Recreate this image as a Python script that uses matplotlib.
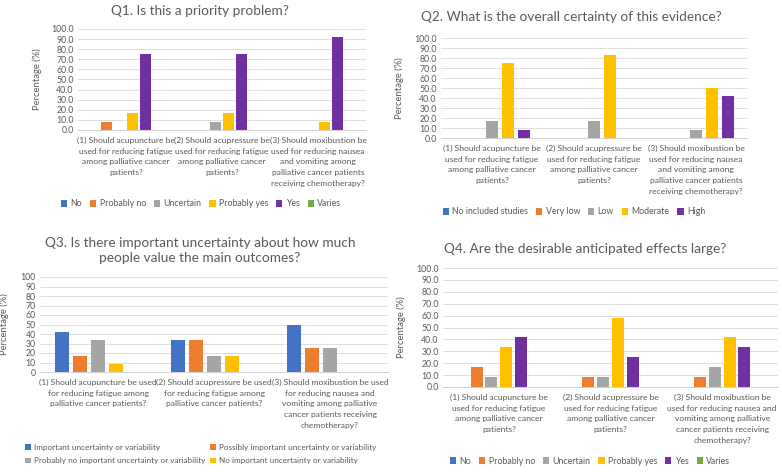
import matplotlib
matplotlib.use("Agg")
import matplotlib.pyplot as plt
import numpy as np

plt.rcParams['font.family'] = ['Lato', 'DejaVu Sans']

# ---------------- data ----------------
q1_title = "Q1. Is this a priority problem?"
q1_series = ["No", "Probably no", "Uncertain", "Probably yes", "Yes", "Varies"]
q1_values = [
    [0.0, 0.0, 0.0],      # No
    [8.3, 0.0, 0.0],      # Probably no
    [0.0, 8.3, 0.0],      # Uncertain
    [16.7, 16.7, 8.3],    # Probably yes
    [75.0, 75.0, 91.7],   # Yes
    [0.0, 0.0, 0.0],      # Varies
]
q1_labels = [
    "(1) Should acupuncture be\nused for reducing fatigue\namong palliative cancer\npatients?",
    "(2) Should acupressure be\nused for reducing fatigue\namong palliative cancer\npatients?",
    "(3) Should moxibustion be\nused for reducing nausea\nand vomiting among\npalliative cancer patients\nreceiving chemotherapy?",
]

q2_title = "Q2. What is the overall certainty of this evidence?"
q2_series = ["No included studies", "Very low", "Low", "Moderate", "High"]
q2_values = [
    [0.0, 0.0, 0.0],
    [0.0, 0.0, 0.0],
    [16.7, 16.7, 8.3],
    [75.0, 83.3, 50.0],
    [8.3, 0.0, 41.7],
]
q2_labels = q1_labels

q3_title = "Q3. Is there important uncertainty about how much\npeople value the main outcomes?"
q3_series = ["Important uncertainty or variability",
             "Possibly important uncertainty or variability",
             "Probably no important uncertainty or variability",
             "No important uncertainty or variability"]
q3_values = [
    [41.7, 33.3, 50.0],
    [16.7, 33.3, 25.0],
    [33.3, 16.7, 25.0],
    [8.3, 16.7, 0.0],
]
q3_labels = [
    "(1) Should acupuncture be used\nfor reducing fatigue among\npalliative cancer patients?",
    "(2) Should acupressure be used\nfor reducing fatigue among\npalliative cancer patients?",
    "(3) Should moxibustion be used\nfor reducing nausea and\nvomiting among palliative\ncancer patients receiving\nchemotherapy?",
]

q4_title = "Q4. Are the desirable anticipated effects large?"
q4_series = ["No", "Probably no", "Uncertain", "Probably yes", "Yes", "Varies"]
q4_values = [
    [0.0, 0.0, 0.0],
    [16.7, 8.3, 8.3],
    [8.3, 8.3, 16.7],
    [33.3, 58.3, 41.7],
    [41.7, 25.0, 33.3],
    [0.0, 0.0, 0.0],
]
q4_labels = [
    "(1) Should acupuncture be\nused for reducing fatigue\namong palliative cancer\npatients?",
    "(2) Should acupressure be\nused for reducing fatigue\namong palliative cancer\npatients?",
    "(3) Should moxibustion be\nused for reducing nausea and\nvomiting among palliative\ncancer patients receiving\nchemotherapy?",
]

colors6 = ['#4472C4', '#ED7D31', '#A5A5A5', '#FFC000', '#7030A0', '#70AD47']
TXT = '#595959'
W, H = 782, 472

fig = plt.figure(figsize=(W / 100, H / 100), dpi=100)


def px_rect(x0, y0, x1, y1):
    return [x0 / W, 1 - y1 / H, (x1 - x0) / W, (y1 - y0) / H]


def panel(rect, series, values, labels, step, width, nslots, fmt, ylab_x):
    ax = fig.add_axes(px_rect(*rect))
    x = np.arange(len(labels))
    handles = []
    for i, (name, vals) in enumerate(zip(series, values)):
        off = (i - (nslots - 1) / 2) * step
        b = ax.bar(x + off, vals, width, color=colors6[i], label=name, zorder=3)
        handles.append(b)
    ax.set_xlim(-0.5, len(labels) - 0.5)
    ax.set_ylim(0, 100)
    ax.set_yticks(np.arange(0, 101, 10))
    ax.set_yticklabels([fmt.format(v) for v in np.arange(0, 101, 10)])
    ax.set_xticks(x)
    ax.set_xticklabels(labels, fontsize=6.1, color=TXT, linespacing=1.6)
    ax.tick_params(axis='y', length=0, labelsize=6.3, labelcolor=TXT, pad=3)
    ax.tick_params(axis='x', length=0, pad=5)
    ax.grid(axis='y', color='#d9d9d9', lw=0.6, zorder=0)
    for s in ['top', 'right', 'left']:
        ax.spines[s].set_visible(False)
    ax.spines['bottom'].set_color('#d0d0d0')
    ax.spines['bottom'].set_linewidth(0.7)
    ax.set_ylabel("Percentage (%)", fontsize=6.8, color=TXT)
    ax.yaxis.set_label_coords((ylab_x - rect[0]) / (rect[2] - rect[0]), 0.5)
    return ax, handles


leg_kw = dict(frameon=False, handlelength=0.7, handleheight=0.7,
              handletextpad=0.4, labelcolor=TXT)

# Q1
ax1, h1 = panel((78, 29, 366, 130), q1_series, q1_values, q1_labels,
                0.135, 0.115, 6, "{:.1f}", 42)
fig.text(200 / W, 1 - 11 / H, q1_title, ha='center', va='center', fontsize=9.8, color=TXT)
fig.legend(h1, q1_series, loc='center', bbox_to_anchor=(201 / W, 1 - 204 / H), ncol=6,
           columnspacing=0.9, fontsize=6.3, **leg_kw)

# Q2
ax2, h2 = panel((441, 38, 747, 138), q2_series, q2_values, q2_labels,
                0.157, 0.118, 5, "{:.1f}", 404)
fig.text(571 / W, 1 - 17 / H, q2_title, ha='center', va='center', fontsize=9.8, color=TXT)
fig.legend(h2, q2_series, loc='center', bbox_to_anchor=(574 / W, 1 - 212 / H), ncol=5,
           columnspacing=0.9, fontsize=6.3, **leg_kw)

# Q3 (five bar slots, the last one empty)
ax3, h3 = panel((40, 277, 388, 372), q3_series, q3_values, q3_labels,
                0.155, 0.116, 5, "{:.0f}", 9)
fig.text(200 / W, 1 - 250 / H, q3_title, ha='center', va='center', fontsize=9.8,
         color=TXT, linespacing=1.3)
order = [0, 2, 1, 3]
fig.legend([h3[i] for i in order], [q3_series[i] for i in order], loc='center left',
           bbox_to_anchor=(18 / W, 1 - 454 / H), ncol=2, columnspacing=0.5,
           labelspacing=0.8, fontsize=5.9, **leg_kw)

# Q4
ax4, h4 = panel((443, 268, 778, 387), q4_series, q4_values, q4_labels,
                0.132, 0.107, 6, "{:.1f}", 406)
fig.text(585 / W, 1 - 249 / H, q4_title, ha='center', va='center', fontsize=9.8, color=TXT)
fig.legend(h4, q4_series, loc='center', bbox_to_anchor=(590 / W, 1 - 461 / H), ncol=6,
           columnspacing=0.9, fontsize=6.3, **leg_kw)

plt.savefig('out.png', dpi=100)
